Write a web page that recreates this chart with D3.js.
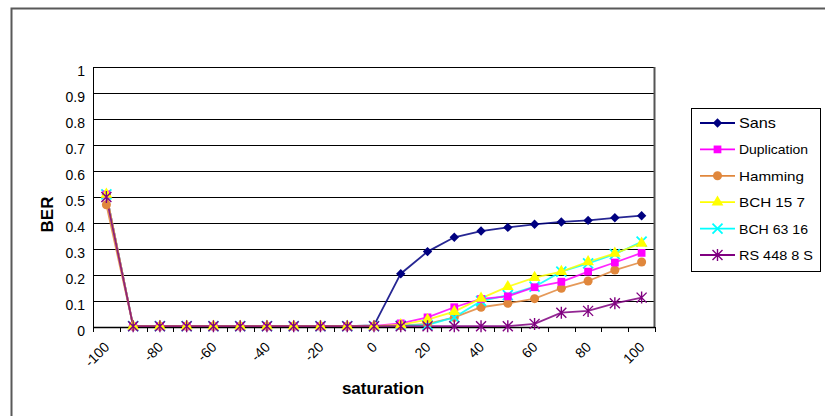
<!DOCTYPE html>
<html><head><meta charset="utf-8">
<script src="https://cdn.jsdelivr.net/npm/d3@7"></script>
<style>body{margin:0;background:#fff}svg{display:block;font-family:Arial,"Liberation Sans",sans-serif}</style>
</head><body>
<svg id="c" width="825" height="416"></svg>
<script>
const categories = [-100,-90,-80,-70,-60,-50,-40,-30,-20,-10,0,10,20,30,40,50,60,70,80,90,100];
const xTickLabels = [-100,-80,-60,-40,-20,0,20,40,60,80,100];
const yTicks = [0,0.1,0.2,0.3,0.4,0.5,0.6,0.7,0.8,0.9,1];
const seriesNames = ["Sans","Duplication","Hamming","BCH 15 7","BCH 63 16","RS 448 8 S"];
const sans        = [0.51,0.003,0.003,0.003,0.003,0.003,0.003,0.003,0.003,0.003,0.006,0.205,0.29,0.345,0.369,0.383,0.395,0.404,0.41,0.42,0.428];
const duplication = [0.51,0.003,0.003,0.003,0.003,0.003,0.003,0.003,0.003,0.003,0.004,0.014,0.037,0.076,0.108,0.118,0.153,0.174,0.213,0.248,0.285];
const hamming     = [0.47,0.003,0.003,0.003,0.003,0.003,0.003,0.003,0.003,0.003,0.003,0.005,0.012,0.037,0.076,0.091,0.109,0.149,0.177,0.219,0.25];
const bch157      = [0.51,0.003,0.003,0.003,0.003,0.003,0.003,0.003,0.003,0.003,0.003,0.008,0.028,0.059,0.11,0.155,0.19,0.213,0.251,0.283,0.322];
const bch6316     = [0.51,0.003,0.003,0.003,0.003,0.003,0.003,0.003,0.003,0.003,0.003,0.005,0.008,0.037,0.1,0.123,0.155,0.213,0.245,0.28,0.328];
const rs448       = [0.50,0.003,0.003,0.003,0.003,0.003,0.003,0.003,0.003,0.003,0.003,0.003,0.003,0.003,0.003,0.003,0.012,0.055,0.062,0.091,0.113];
const colors = ["#000080","#ff00ff","#e0873c","#ffff00","#00ffff","#800080"];
const symbols = ["diamond","square","circle","triangle","x","star"];
const allSeries = [sans,duplication,hamming,bch157,bch6316,rs448];

const svg = d3.select("#c");
svg.append("path").attr("d","M11.5,416 V8.5 H825").attr("fill","none").attr("stroke","#595959").attr("stroke-width",2);

const L=93, R=655, T=67, B=327;
const x = d3.scaleBand().domain(categories).range([L,R]);
const y = d3.scaleLinear().domain([0,1]).range([B,T]);

svg.append("g").selectAll("line").data(yTicks.slice(1)).join("line")
  .attr("x1",L).attr("x2",R).attr("y1",d=>Math.round(y(d))+0.5).attr("y2",d=>Math.round(y(d))+0.5)
  .attr("stroke","#000").attr("stroke-width",1);
svg.append("rect").attr("x",L+0.5).attr("y",T+0.5).attr("width",R-L-1).attr("height",B-T)
  .attr("fill","none").attr("stroke","#000");
svg.append("line").attr("x1",R-0.5).attr("x2",R-0.5).attr("y1",T).attr("y2",B).attr("stroke","#555").attr("stroke-width",2);

const yAxis = d3.axisLeft(y).tickValues(yTicks).tickFormat(d=>d3.format("~g")(d)).tickSize(0).tickPadding(8);
const gy = svg.append("g").attr("transform",`translate(${L},4)`).call(yAxis);
gy.select(".domain").remove();
gy.selectAll("text").attr("font-size",14).attr("fill","#000").attr("font-family","Arial, 'Liberation Sans', sans-serif");

const gx = svg.append("g").attr("transform",`translate(0,${B})`);
gx.append("line").attr("x1",L).attr("x2",R).attr("y1",0.5).attr("y2",0.5).attr("stroke","#000").attr("stroke-width",1.5);
gx.selectAll("line.tk").data(categories.concat(["end"])).join("line").attr("class","tk")
  .attr("x1",(d,i)=>Math.round(L+i*x.step())+0.5).attr("x2",(d,i)=>Math.round(L+i*x.step())+0.5)
  .attr("y1",0).attr("y2",5).attr("stroke","#000");
gx.selectAll("text").data(xTickLabels).join("text")
  .attr("transform",d=>`translate(${x(d)+x.bandwidth()/2+4},${21}) rotate(-45)`)
  .attr("text-anchor","end").attr("font-size",14).attr("fill","#000").text(d=>d);

const line = d3.line().x((d,i)=>x(categories[i])+x.bandwidth()/2).y(d=>y(d));
const order = [0,2,4,1,3,5];
const markSize = [44,60,64,60,0,0];
order.forEach(k=>{
  svg.append("path").datum(allSeries[k]).attr("d",line).attr("fill","none")
    .attr("stroke",colors[k]).attr("stroke-width",1.8).attr("opacity",0.85);
});
function marker(g,k,cx,cy){
  const c=colors[k];
  if(symbols[k]==="x"){
    g.append("path").attr("d",`M${cx-5},${cy-5}L${cx+5},${cy+5}M${cx-5},${cy+5}L${cx+5},${cy-5}`).attr("stroke",c).attr("stroke-width",1.8);
  } else if(symbols[k]==="star"){
    g.append("path").attr("d",`M${cx-5},${cy-5}L${cx+5},${cy+5}M${cx-5},${cy+5}L${cx+5},${cy-5}M${cx},${cy-6}L${cx},${cy+6}`).attr("stroke",c).attr("stroke-width",1.4);
  } else if(symbols[k]==="diamond"){
    g.append("path").attr("d",d3.symbol(d3.symbolSquare,markSize[k])()).attr("transform",`translate(${cx},${cy}) rotate(45)`).attr("fill",c);
  } else {
    const t={square:d3.symbolSquare,circle:d3.symbolCircle,triangle:d3.symbolTriangle}[symbols[k]];
    g.append("path").attr("d",d3.symbol(t,markSize[k])()).attr("transform",`translate(${cx},${cy})`).attr("fill",c);
  }
}
order.forEach(k=>{
  const g=svg.append("g");
  allSeries[k].forEach((v,i)=>marker(g,k,x(categories[i])+x.bandwidth()/2,y(v)));
});

svg.append("text").attr("transform","translate(53,214.5) rotate(-90)").attr("text-anchor","middle")
  .attr("font-weight","bold").attr("font-size",17).text("BER");
svg.append("text").attr("x",383).attr("y",394).attr("text-anchor","middle")
  .attr("font-weight","bold").attr("font-size",17).text("saturation");

svg.append("rect").attr("x",691.5).attr("y",108.5).attr("width",129).attr("height",163)
  .attr("fill","#fff").attr("stroke","#000");
const legendLen = [37,69,65,66,69,74];
seriesNames.forEach((n,k)=>{
  const yy=123+k*26.4;
  const g=svg.append("g");
  g.append("line").attr("x1",700).attr("x2",735).attr("y1",yy).attr("y2",yy).attr("stroke",colors[k]).attr("stroke-width",1.8);
  marker(g,k,717.5,yy);
  g.append("text").attr("x",739).attr("y",yy+5).attr("font-size",k===0?15:13.5)
    .attr("textLength",legendLen[k]).attr("lengthAdjust","spacingAndGlyphs").text(n);
});
</script>
</body></html>
